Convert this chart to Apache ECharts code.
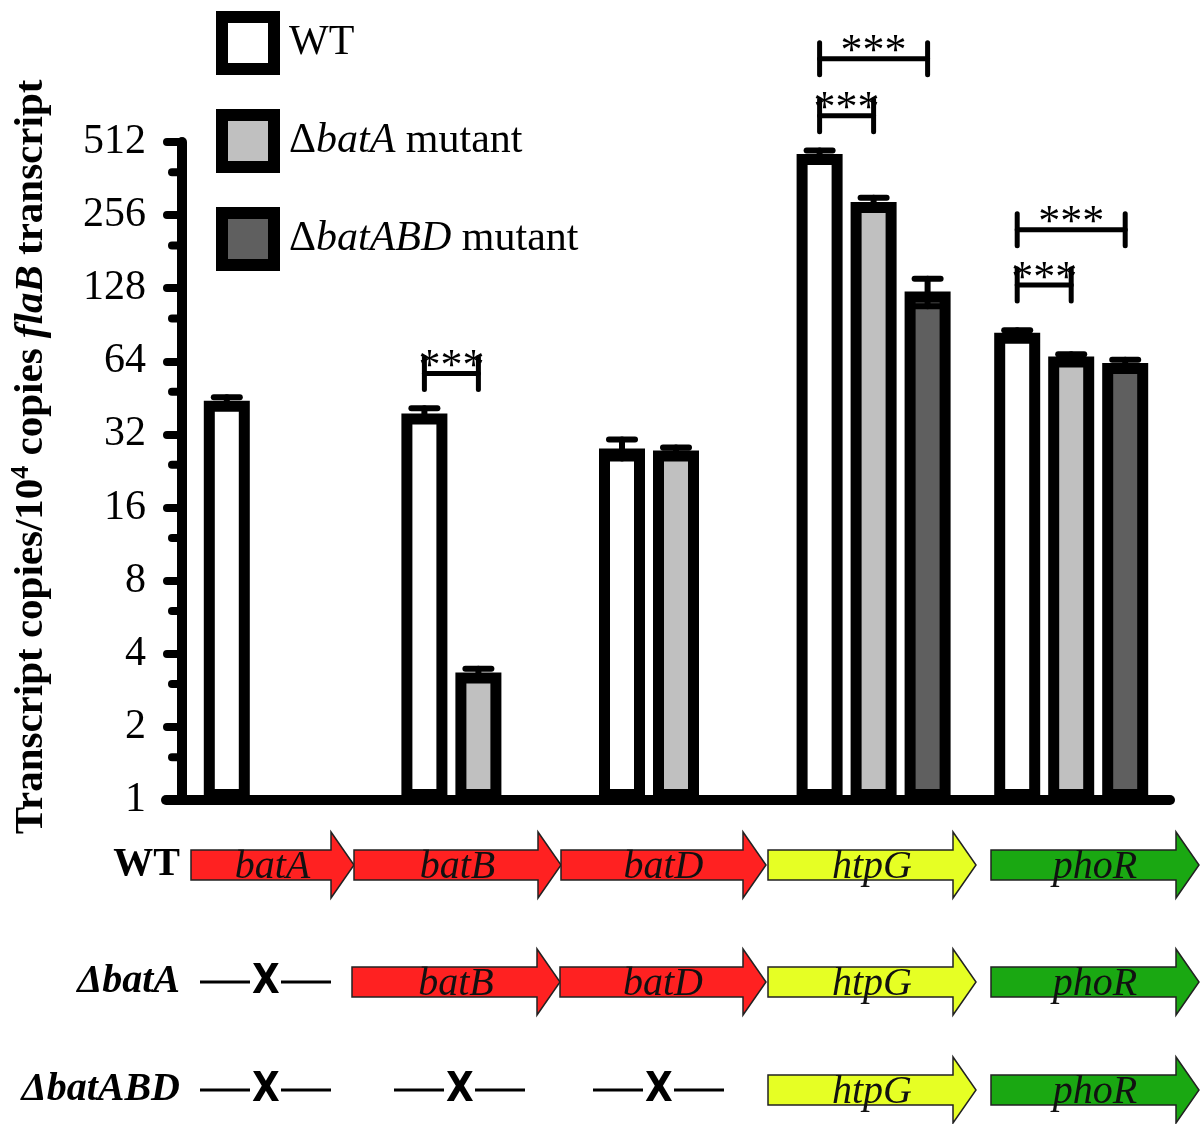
<!DOCTYPE html>
<html>
<head>
<meta charset="utf-8">
<script src="https://cdn.jsdelivr.net/npm/echarts@6/dist/echarts.min.js"></script>
<style>html,body{margin:0;padding:0;background:#fff}#c{width:1200px;height:1124px}</style>
</head>
<body>
<div id="c"></div>
<script>
// ---------- data ----------
const categories = ['batA', 'batB', 'batD', 'htpG', 'phoR'];
const seriesNames = ['WT', 'ΔbatA mutant', 'ΔbatABD mutant'];
const wtValues     = [44, 39, 28, 457, 84];
const batAValues   = [null, 3.35, 27.5, 290, 67];
const batABDValues = [null, null, null, 124, 63];
const wtErr        = [1.5, 2, 2.5, 15, 2];
const batAErr      = [null, 0.12, 0.8, 12, 1.5];
const batABDErr    = [null, null, null, 16, 2];
const yTickValues  = [1, 2, 4, 8, 16, 32, 64, 128, 256, 512];
const yMinorTicks  = [1.5, 3, 6, 12, 24, 48, 96, 192, 384];
// significance brackets: [category index, from bar, to bar, bracket level value]
const brackets = [[1, 0, 1, 57], [3, 0, 1, 656], [3, 0, 2, 1126], [4, 0, 1, 132], [4, 0, 2, 223]];
const bracketLabel = '***';

// ---------- style ----------
const SERIF = '"Liberation Serif","Times New Roman",serif';
const BAR_W = 46;
const PITCH = 54;
const BAR_GAP = (PITCH - BAR_W) / BAR_W;
const fills = ['#ffffff', '#c0c0c0', '#5f5f5f'];

const chart = echarts.init(document.getElementById('c'), null, {renderer: 'canvas'});

function errSeries(vals, errs, barIdx) {
  const data = [];
  vals.forEach((v, i) => { if (v != null) data.push([i, v, errs[i]]); });
  return {
    type: 'custom', name: 'err' + barIdx, z: 5, clip: false, silent: true,
    data: data,
    renderItem: function (params, api) {
      const cat = api.value(0), m = api.value(1), e = api.value(2);
      const x = api.coord([cat, m])[0] + (barIdx - 1) * PITCH;
      const yT = api.coord([cat, m + e])[1];
      const yB = api.coord([cat, Math.max(m - e, 1.0001)])[1];
      const hw = 13;
      const st = {stroke: '#000', lineWidth: 6, lineCap: 'round'};
      return {type: 'group', children: [
        {type: 'line', shape: {x1: x, y1: yT, x2: x, y2: yB}, style: st},
        {type: 'line', shape: {x1: x - hw, y1: yT, x2: x + hw, y2: yT}, style: st},
        {type: 'line', shape: {x1: x - hw, y1: yB, x2: x + hw, y2: yB}, style: st}
      ]};
    }
  };
}

// minor ticks on the log axis
const minorTickSeries = {
  type: 'custom', name: 'minor', clip: false, silent: true, z: 6,
  data: yMinorTicks.map(v => [0, v]),
  renderItem: function (params, api) {
    const y = api.coord([0, api.value(1)])[1];
    const x0 = params.coordSys.x;
    return {type: 'line', shape: {x1: x0 - 10, y1: y, x2: x0, y2: y},
      style: {stroke: '#000', lineWidth: 8, lineCap: 'round'}};
  }
};

const bracketSeries = {
  type: 'custom', name: 'brackets', clip: false, silent: true, z: 7,
  data: brackets,
  renderItem: function (params, api) {
    const cat = api.value(0), b0 = api.value(1), b1 = api.value(2), lv = api.value(3);
    const p = api.coord([cat, lv]);
    const x1 = p[0] + (b0 - 1) * PITCH, x2 = p[0] + (b1 - 1) * PITCH, y = p[1];
    const st = {stroke: '#000', lineWidth: 5, lineCap: 'round'};
    return {type: 'group', children: [
      {type: 'line', shape: {x1: x1, y1: y, x2: x2, y2: y}, style: st},
      {type: 'line', shape: {x1: x1, y1: y - 16, x2: x1, y2: y + 16}, style: st},
      {type: 'line', shape: {x1: x2, y1: y - 16, x2: x2, y2: y + 16}, style: st},
      {type: 'text', x: (x1 + x2) / 2, y: y + 16,
        style: {text: bracketLabel, align: 'center', verticalAlign: 'bottom',
          font: '44px ' + SERIF, fill: '#000'}}
    ]};
  }
};

// ---------- gene diagram (annotation) ----------
const RED = '#ff2121', YEL = '#e6ff24', GRN = '#1aa812';
function arrow(x0, x1, yc, color, label) {
  const hb = x1 - 23, bh = 15, hh = 33;
  return [
    {type: 'polygon', shape: {points: [[x0, yc - bh], [hb, yc - bh], [hb, yc - hh], [x1, yc], [hb, yc + hh], [hb, yc + bh], [x0, yc + bh]]},
      style: {fill: color, stroke: '#222', lineWidth: 1.5}},
    {type: 'text', x: (x0 + x1) / 2, y: yc + 2,
      style: {text: label, align: 'center', verticalAlign: 'middle', font: 'italic 40px ' + SERIF, fill: '#111'}}
  ];
}
function deletion(xc, yc) {
  return [
    {type: 'line', shape: {x1: xc - 66, y1: yc, x2: xc - 16, y2: yc}, style: {stroke: '#000', lineWidth: 3}},
    {type: 'line', shape: {x1: xc + 15, y1: yc, x2: xc + 65, y2: yc}, style: {stroke: '#000', lineWidth: 3}},
    {type: 'text', x: xc, y: yc + 1, style: {text: 'X', align: 'center', verticalAlign: 'middle',
      font: 'bold 40px "DejaVu Sans Condensed","DejaVu Sans",sans-serif', fill: '#000'}}
  ];
}
function rowLabel(yc, rich) {
  return {type: 'text', x: 180, y: yc, style: {text: rich, align: 'right', verticalAlign: 'middle',
    font: 'bold 40px ' + SERIF, fill: '#000',
    rich: {b: {fontFamily: SERIF, fontWeight: 'bold', fontSize: 40},
           bi: {fontFamily: SERIF, fontWeight: 'bold', fontStyle: 'italic', fontSize: 40}}}};
}
const Y1 = 865, Y2 = 982, Y3 = 1090;
let gfx = [];
gfx.push(rowLabel(Y1, '{b|WT}'));
gfx.push(rowLabel(Y2, '{bi|ΔbatA}'));
gfx.push(rowLabel(Y3, '{bi|ΔbatABD}'));
gfx = gfx.concat(
  arrow(191, 354, Y1, RED, 'batA'), arrow(354, 561, Y1, RED, 'batB'), arrow(561, 766, Y1, RED, 'batD'),
  arrow(768, 976, Y1, YEL, 'htpG'), arrow(991, 1199, Y1, GRN, 'phoR'),
  deletion(266, Y2),
  arrow(352, 560, Y2, RED, 'batB'), arrow(560, 766, Y2, RED, 'batD'),
  arrow(768, 976, Y2, YEL, 'htpG'), arrow(991, 1199, Y2, GRN, 'phoR'),
  deletion(266, Y3), deletion(460, Y3), deletion(659, Y3),
  arrow(768, 976, Y3, YEL, 'htpG'), arrow(991, 1199, Y3, GRN, 'phoR')
);
// x-axis line extends slightly left of the y-axis in the original
gfx.push({type: 'line', shape: {x1: 166, y1: 800, x2: 182, y2: 800}, style: {stroke: '#000', lineWidth: 10, lineCap: 'round'}});

const barData = [wtValues, batAValues, batABDValues];

const option = {
  animation: false,
  backgroundColor: '#fff',
  grid: {left: 182, right: 30, top: 142, bottom: 324, containLabel: false},
  legend: {
    orient: 'vertical', left: 216, top: 11, padding: 0, icon: 'rect',
    itemWidth: 52, itemHeight: 52, itemGap: 34,
    selectedMode: false,
    data: seriesNames.map((n, i) => ({name: n, itemStyle: {color: fills[i], borderColor: '#000', borderWidth: 12}})),
    formatter: function (name) {
      if (name === 'WT') return '{s|}{r|WT}';
      if (name === 'ΔbatA mutant') return '{s|}{r|Δ}{i|batA}{r| mutant}';
      return '{s|}{r|Δ}{i|batABD}{r| mutant}';
    },
    textStyle: {
      fontFamily: SERIF, fontSize: 42, color: '#000',
      rich: {
        s: {width: 10},
        r: {fontFamily: SERIF, fontSize: 42, color: '#000'},
        i: {fontFamily: SERIF, fontSize: 42, fontStyle: 'italic', color: '#000'}
      }
    }
  },
  xAxis: {
    type: 'category', data: categories,
    axisLine: {lineStyle: {color: '#000', width: 10, cap: 'round'}},
    axisTick: {alignWithLabel: true, length: 13, lineStyle: {color: '#000', width: 7, cap: 'round'}},
    axisLabel: {show: false},
    splitLine: {show: false}
  },
  yAxis: {
    type: 'log', logBase: 2, min: 1, max: 512,
    axisLine: {show: true, lineStyle: {color: '#000', width: 10, cap: 'round'}},
    axisTick: {show: true, length: 15, customValues: yTickValues, lineStyle: {color: '#000', width: 8, cap: 'round'}},
    axisLabel: {margin: 36, fontFamily: SERIF, fontSize: 42, color: '#000', customValues: yTickValues,
      formatter: v => String(Math.round(v))},
    splitLine: {show: false},
    minorTick: {show: false},
    name: '{b|Transcript copies/10}{sup|4}{b| copies }{bi|flaB}{b| transcript}',
    nameLocation: 'middle', nameRotate: 90, nameGap: 128,
    nameTextStyle: {
      padding: [0, 0, 0, 28],
      rich: {
        b: {fontFamily: SERIF, fontWeight: 'bold', fontSize: 41, color: '#000', lineHeight: 46},
        bi: {fontFamily: SERIF, fontWeight: 'bold', fontStyle: 'italic', fontSize: 41, color: '#000', lineHeight: 46},
        sup: {fontFamily: SERIF, fontWeight: 'bold', fontSize: 26, color: '#000', verticalAlign: 'top', lineHeight: 46, padding: [0, 0, 16, 0]}
      }
    }
  },
  series: barData.map((vals, i) => ({
    type: 'bar', name: seriesNames[i], data: vals,
    barWidth: BAR_W, barGap: (BAR_GAP * 100) + '%',
    itemStyle: {color: fills[i], borderColor: '#000', borderWidth: 11},
    z: 3
  })).concat([
    errSeries(wtValues, wtErr, 0),
    errSeries(batAValues, batAErr, 1),
    errSeries(batABDValues, batABDErr, 2),
    minorTickSeries,
    bracketSeries
  ]),
  graphic: gfx
};
chart.setOption(option);
</script>
</body>
</html>
